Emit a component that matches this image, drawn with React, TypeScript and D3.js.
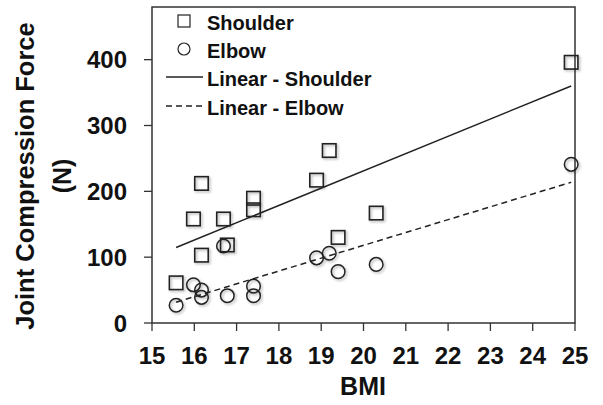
import * as d3 from 'd3';

// BMI of each subject (same subjects for both joints)
const bmi = [15.57, 15.98, 16.17, 16.17, 16.69, 16.78, 17.4, 17.4, 18.89, 19.19, 19.4, 20.3, 24.91];
const shoulder = [61, 158, 212, 103, 158, 118.5, 189.5, 172, 217, 262, 130, 167, 396];
const elbow = [27, 58, 50, 39, 117, 41.5, 56, 41.5, 99, 106, 78, 89, 241];

const xTicks = [15, 16, 17, 18, 19, 20, 21, 22, 23, 24, 25];
const yTicks = [0, 100, 200, 300, 400];

const W = 603;
const H = 405;
const font = '"Liberation Sans", Arial, sans-serif';
const ink = '#222';
const textInk = '#111';

function fit(xs: number[], ys: number[]) {
  const mx = d3.mean(xs) as number;
  const my = d3.mean(ys) as number;
  const sxy = d3.sum(xs, (x, i) => (x - mx) * (ys[i] - my));
  const sxx = d3.sum(xs, (x) => (x - mx) * (x - mx));
  const slope = sxy / sxx;
  return (x: number) => my + slope * (x - mx);
}

export default function App() {
  const x = d3.scaleLinear().domain([15, 25]).range([152, 575]);
  const y = d3.scaleLinear().domain([0, 480]).range([323, 7]);

  const [x0, x1] = d3.extent(bmi) as [number, number];
  const fs = fit(bmi, shoulder);
  const fe = fit(bmi, elbow);
  const shoulderLine = d3.line<number>().x((d) => x(d)).y((d) => y(fs(d)))([x0, x1]) as string;
  const elbowLine = d3.line<number>().x((d) => x(d)).y((d) => y(fe(d)))([x0, x1]) as string;

  const sq = 13.5;
  const r = 6.8;

  return (
    <svg width={W} height={H} style={{ display: 'block' }}>
      <style>{'body{margin:0}'}</style>
      <defs>
        <filter id="sh" x="-30%" y="-30%" width="170%" height="170%">
          <feDropShadow dx="1.5" dy="1.5" stdDeviation="1" floodColor="#000" floodOpacity="0.3" />
        </filter>
      </defs>
      <rect width={W} height={H} fill="#fff" />

      {/* frame */}
      <rect x={x(15)} y={y(480)} width={x(25) - x(15)} height={y(0) - y(480)} fill="none" stroke="#333" strokeWidth={1.5} />

      {/* y ticks */}
      {yTicks.map((t) => (
        <g key={t}>
          <line x1={x(15) - 8} x2={x(15)} y1={y(t)} y2={y(t)} stroke="#333" strokeWidth={1.3} />
          <text x={127} y={y(t)} dy="0.36em" textAnchor="end" fontFamily={font} fontWeight="bold" fontSize={24} fill={textInk}>
            {t}
          </text>
        </g>
      ))}

      {/* x ticks */}
      {xTicks.map((t) => (
        <g key={t}>
          <line x1={x(t)} x2={x(t)} y1={y(0)} y2={y(0) + 8} stroke="#333" strokeWidth={1.3} />
          <text x={x(t)} y={364} textAnchor="middle" fontFamily={font} fontWeight="bold" fontSize={24} fill={textInk}>
            {t}
          </text>
        </g>
      ))}

      {/* axis titles */}
      <text x={363} y={395} textAnchor="middle" fontFamily={font} fontWeight="bold" fontSize={25} fill={textInk}>
        BMI
      </text>
      <g transform="translate(34,176) rotate(-90)">
        <text x={0} y={0} textAnchor="middle" fontFamily={font} fontWeight="bold" fontSize={25.5} fill={textInk}>
          Joint Compression Force
        </text>
        <text x={0} y={37} textAnchor="middle" fontFamily={font} fontWeight="bold" fontSize={25} fill={textInk}>
          (N)
        </text>
      </g>

      {/* trend lines */}
      <path d={shoulderLine} fill="none" stroke={ink} strokeWidth={1.5} />
      <path d={elbowLine} fill="none" stroke={ink} strokeWidth={1.5} strokeDasharray="6,4" />

      {/* markers */}
      <g filter="url(#sh)">
        {bmi.map((b, i) => (
          <rect key={'s' + i} x={x(b) - sq / 2} y={y(shoulder[i]) - sq / 2} width={sq} height={sq} fill="none" stroke={ink} strokeWidth={1.6} />
        ))}
        {bmi.map((b, i) => (
          <circle key={'c' + i} cx={x(b)} cy={y(elbow[i])} r={r} fill="none" stroke={ink} strokeWidth={1.5} />
        ))}
      </g>

      {/* legend */}
      <g fontFamily={font} fontWeight="bold" fontSize={20} fill={textInk}>
        <rect x={184 - 6} y={21 - 6} width={12} height={12} fill="none" stroke={ink} strokeWidth={1.2} />
        <text x={207} y={30}>Shoulder</text>
        <circle cx={184} cy={49} r={6} fill="none" stroke={ink} strokeWidth={1.2} />
        <text x={207} y={58}>Elbow</text>
        <line x1={166} x2={203} y1={77} y2={77} stroke={ink} strokeWidth={1.5} />
        <text x={207} y={86}>Linear - Shoulder</text>
        <line x1={166} x2={203} y1={106} y2={106} stroke={ink} strokeWidth={1.5} strokeDasharray="6,4" />
        <text x={207} y={115}>Linear - Elbow</text>
      </g>
    </svg>
  );
}
